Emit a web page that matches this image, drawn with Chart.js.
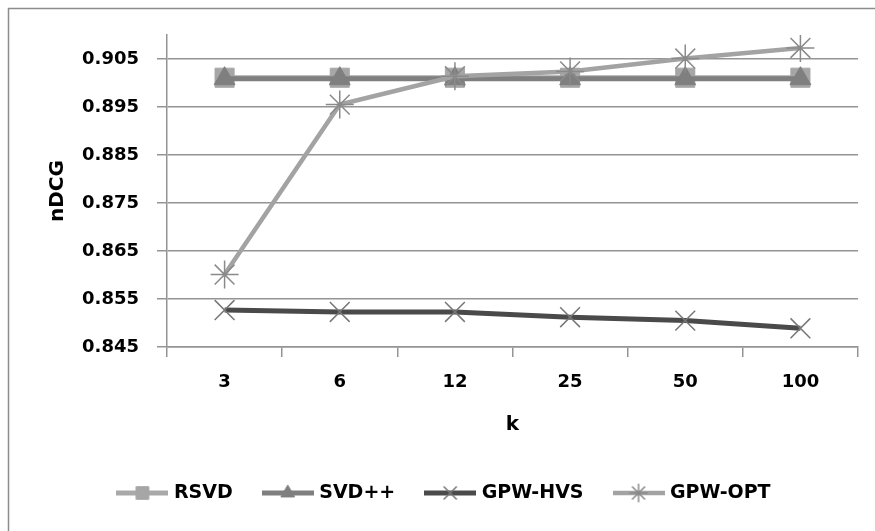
<!DOCTYPE html>
<html>
<head>
<meta charset="utf-8">
<script src="https://cdn.jsdelivr.net/npm/chart.js@4.4.0/dist/chart.umd.min.js"></script>
<style>
  html, body { margin: 0; padding: 0; background: #fff; }
  #wrap { width: 875px; height: 531px; position: relative; }
</style>
</head>
<body>
<div id="wrap"><canvas id="myChart" width="875" height="531"></canvas></div>
<script>
'use strict';
var kValues = ['3', '6', '12', '25', '50', '100'];
var yTicks = [0.845, 0.855, 0.865, 0.875, 0.885, 0.895, 0.905];

var rsvd = [0.9011, 0.9011, 0.9011, 0.9011, 0.9011, 0.9011];
var svdpp = [0.9009, 0.9009, 0.9009, 0.9009, 0.9009, 0.9009];
var gpwHvs = [0.8527, 0.8523, 0.8523, 0.8512, 0.8505, 0.8489];
var gpwOpt = [0.8601, 0.8955, 0.9014, 0.9024, 0.9051, 0.9073];

var gridGray = '#949494';
var fontName = 'DejaVu Sans';

// little line + marker picture used as the legend symbol
function legendSymbol(ds) {
  var c = document.createElement('canvas');
  c.width = 52;
  c.height = 22;
  var g = c.getContext('2d');
  g.strokeStyle = ds.borderColor;
  g.lineWidth = ds.borderWidth;
  g.beginPath();
  g.moveTo(0, 11);
  g.lineTo(52, 11);
  g.stroke();
  g.fillStyle = ds.pointBackgroundColor;
  g.strokeStyle = ds.pointBorderColor;
  g.lineWidth = ds.pointBorderWidth;
  Chart.helpers.drawPoint(g, {
    pointStyle: ds.pointStyle,
    radius: ds.pointRadius * 0.66,
    rotation: 0,
    borderWidth: ds.pointBorderWidth
  }, 26, 11);
  return c;
}

// white page with the frame running off the right and bottom edges
var background = {
  id: 'background',
  beforeDraw: function(chart) {
    var ctx = chart.ctx;
    ctx.save();
    ctx.fillStyle = '#fff';
    ctx.fillRect(0, 0, chart.width, chart.height);
    ctx.strokeStyle = '#8c8c8c';
    ctx.lineWidth = 1.5;
    ctx.strokeRect(8.5, 8.5, 900, 560);
    ctx.restore();
  }
};

var datasets = [{
  label: 'RSVD',
  data: rsvd,
  borderColor: '#a9a9a9',
  borderWidth: 5,
  pointStyle: 'rect',
  pointRadius: 13.5,
  pointBackgroundColor: '#a6a6a6',
  pointBorderColor: '#a6a6a6',
  pointBorderWidth: 1,
  order: 4
}, {
  label: 'SVD++',
  data: svdpp,
  borderColor: '#7f7f7f',
  borderWidth: 5,
  pointStyle: 'triangle',
  pointRadius: 12,
  pointBackgroundColor: '#7f7f7f',
  pointBorderColor: '#7f7f7f',
  pointBorderWidth: 1,
  order: 3
}, {
  label: 'GPW-HVS',
  data: gpwHvs,
  borderColor: '#4a4a4a',
  borderWidth: 5,
  pointStyle: 'crossRot',
  pointRadius: 14,
  pointBackgroundColor: '#777',
  pointBorderColor: '#777',
  pointBorderWidth: 1.5,
  order: 2
}, {
  label: 'GPW-OPT',
  data: gpwOpt,
  borderColor: '#a3a3a3',
  borderWidth: 4.5,
  pointStyle: 'star',
  pointRadius: 14,
  pointBackgroundColor: '#8a8a8a',
  pointBorderColor: '#8a8a8a',
  pointBorderWidth: 1.5,
  order: 1
}];

var ctx = document.getElementById('myChart').getContext('2d');
var nDcgChart = new Chart(ctx, {
  type: 'line',
  data: {
    labels: kValues,
    datasets: datasets
  },
  plugins: [background],
  options: {
    responsive: false,
    animation: false,
    layout: { padding: { left: 16, right: 0, top: 35, bottom: 18.5 } },
    elements: { line: { tension: 0 } },
    plugins: {
      tooltip: { enabled: false },
      legend: {
        position: 'bottom',
        labels: {
          usePointStyle: true,
          pointStyleWidth: 44,
          padding: 33,
          color: '#000',
          font: { family: fontName, size: 19, weight: 'bold' },
          generateLabels: function(chart) {
            return chart.data.datasets.map(function(ds, i) {
              return {
                text: ds.label,
                pointStyle: legendSymbol(ds),
                fillStyle: ds.borderColor,
                strokeStyle: ds.borderColor,
                lineWidth: 0,
                fontColor: '#000',
                datasetIndex: i
              };
            });
          }
        }
      }
    },
    scales: {
      x: {
        type: 'category',
        offset: true,
        afterFit: function(scale) { scale.height = 103.5; },
        grid: {
          offset: true,
          drawOnChartArea: false,
          drawTicks: true,
          tickLength: 10,
          color: gridGray,
          lineWidth: 1.5
        },
        border: { color: gridGray, width: 1.5 },
        ticks: {
          padding: 15,
          color: '#000',
          font: { family: fontName, size: 18, weight: 'bold' }
        },
        title: {
          display: true,
          text: 'k',
          color: '#000',
          font: { family: fontName, size: 20, weight: 'bold' },
          padding: { top: 0, bottom: 13.5 }
        }
      },
      y: {
        min: 0.845,
        max: 0.910,
        afterBuildTicks: function(scale) {
          scale.ticks = yTicks.map(function(v) { return { value: v }; });
        },
        afterFit: function(scale) { scale.width = 151; },
        grid: { color: gridGray, lineWidth: 1.5, tickLength: 10 },
        border: { color: gridGray, width: 1.5 },
        ticks: {
          padding: 18,
          color: '#000',
          font: { family: fontName, size: 18, weight: 'bold' },
          callback: function(v) { return Number(v).toFixed(3); }
        },
        title: {
          display: true,
          text: 'nDCG',
          color: '#000',
          font: { family: fontName, size: 20, weight: 'bold' },
          padding: { top: 30, bottom: 0 }
        }
      },
      // empty axis on the right, keeps the plot off the edge
      yRight: {
        position: 'right',
        display: true,
        afterFit: function(scale) { scale.width = 17; },
        grid: { display: false },
        border: { display: false },
        ticks: { display: false }
      }
    }
  }
});
</script>
</body>
</html>
